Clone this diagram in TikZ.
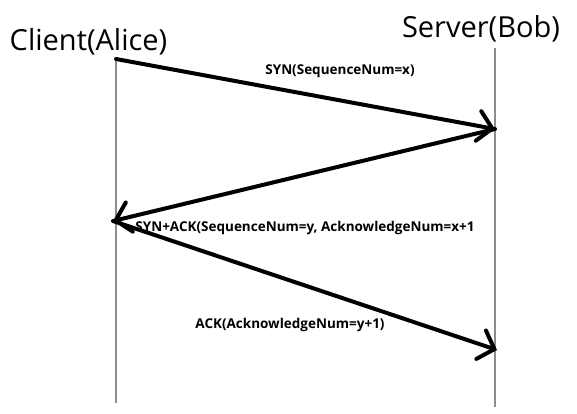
\documentclass[tikz,border=0pt]{standalone}
\usepackage{fontspec}
\setmainfont{Open Sans}
\usetikzlibrary{arrows.meta}
\begin{document}
\begin{tikzpicture}[x=1pt,y=-1pt,
  lifeline/.style={draw=black!45,line width=1.5pt},
  msg/.style={draw=black,line width=4pt,line cap=round,
    -{Straight Barb[length=14pt,width=30pt,line cap=round]}},
  actor/.style={font=\fontsize{29}{32}\selectfont,inner sep=0pt,anchor=base},
  msglabel/.style={font=\bfseries\fontsize{13.5}{15}\selectfont,inner sep=0pt}]
\useasboundingbox (0,0) rectangle (577,413);
\node[actor] (client) at (88.5,50) {Client(Alice)};
\node[actor] (server) at (481,37) {Server(Bob)};
\coordinate (ctop) at (116,59);
\coordinate (cbot) at (116,403);
\coordinate (stop) at (495,48);
\coordinate (sbot) at (495,407);
\coordinate (syn) at (495,129);
\coordinate (synack) at (113,221);
\coordinate (ack) at (497,350);
\draw[lifeline] (ctop) -- (cbot);
\draw[lifeline] (stop) -- (sbot);
\draw[msg] (ctop) -- (syn);
\draw[msg] (syn) -- (synack);
\draw[msg] (synack) -- (ack);
\node[msglabel] (l1) at (340,71) {SYN(SequenceNum=x)};
\node[msglabel] (l2) at (305,228) {SYN+ACK(SequenceNum=y, AcknowledgeNum=x+1};
\node[msglabel] (l3) at (290,325) {ACK(AcknowledgeNum=y+1)};
\end{tikzpicture}
\end{document}
